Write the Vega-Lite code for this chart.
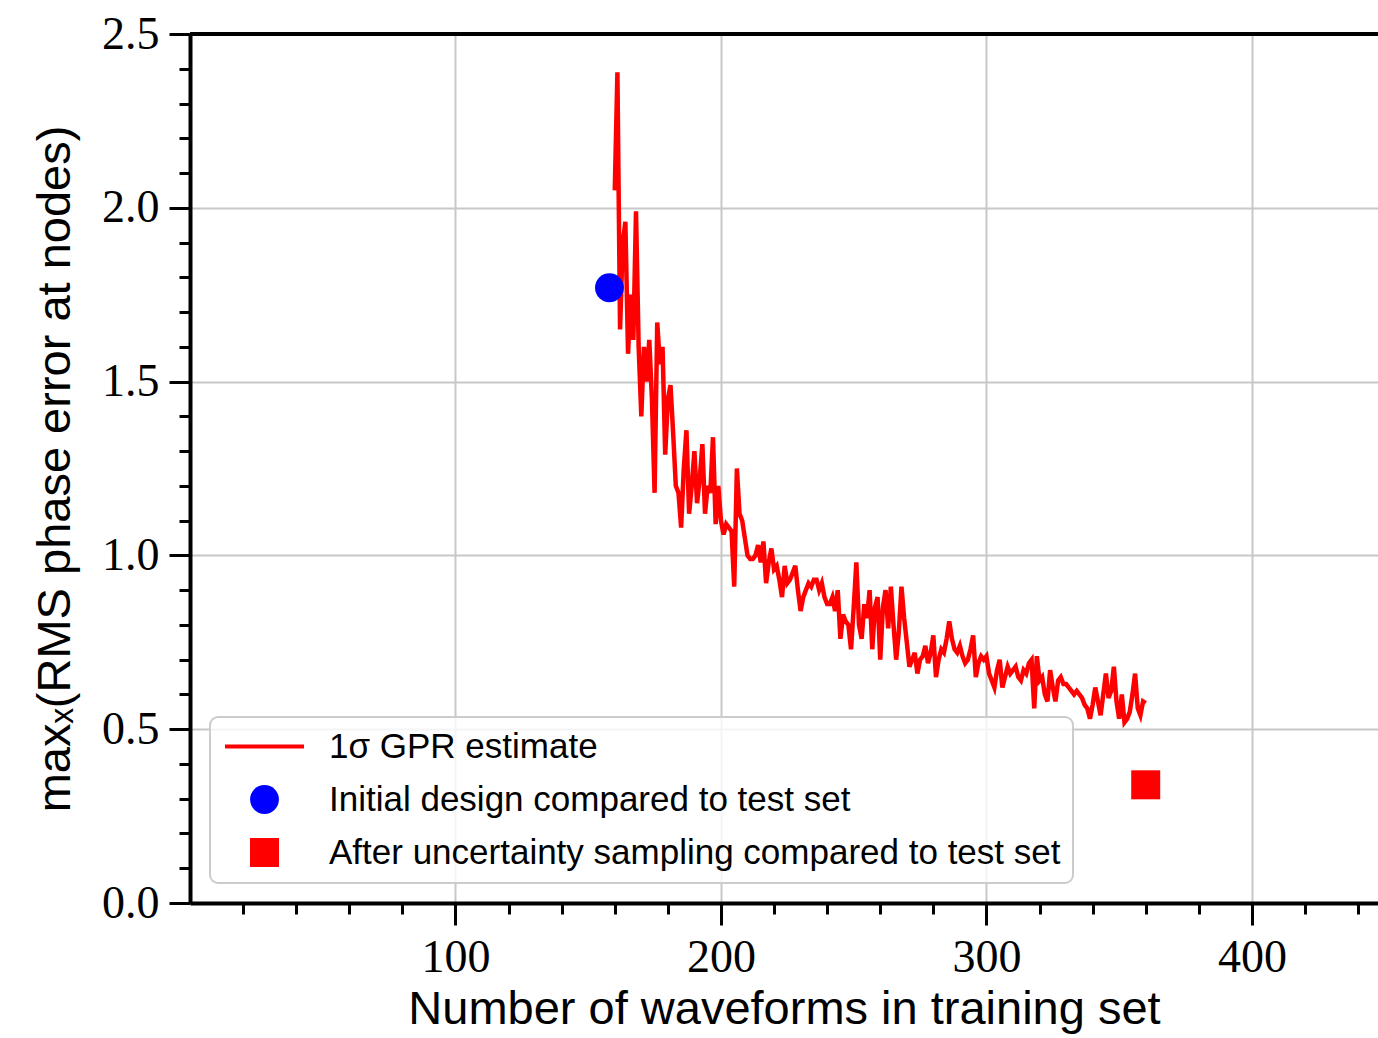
{
"$schema": "https://vega.github.io/schema/vega-lite/v6.json",
"width": 1188, "height": 869,
"autosize": "none",
"padding": {"left": 190, "top": 34, "right": 0, "bottom": 135},
"background": "white",
"config": {
  "view": {"stroke": null},
  "legend": {"orient": "none", "legendX": 20, "legendY": 683, "fillColor": "rgba(255,255,255,0.8)", "strokeColor": "#cccccc", "strokeWidth": 2, "cornerRadius": 8, "padding": 12, "labelFont": "Liberation Sans", "labelFontSize": 35, "labelColor": "black", "labelOffset": 47, "symbolOffset": 25, "labelLimit": 0, "symbolOpacity": 1, "rowPadding": 17}
},
"datasets": {
  "gpr": [
{"n":160,"v":2.05},{"n":161,"v":2.39},{"n":162,"v":1.65},{"n":163,"v":1.90},{"n":164,"v":1.96},{"n":165,"v":1.58},{"n":166,"v":1.75},{"n":167,"v":1.62},{"n":168,"v":1.99},{"n":169,"v":1.60},
{"n":170,"v":1.40},{"n":171,"v":1.60},{"n":172,"v":1.50},{"n":173,"v":1.62},{"n":174,"v":1.45},{"n":175,"v":1.18},{"n":176,"v":1.67},{"n":177,"v":1.55},{"n":178,"v":1.60},{"n":179,"v":1.29},
{"n":180,"v":1.45},{"n":181,"v":1.49},{"n":182,"v":1.35},{"n":183,"v":1.20},{"n":184,"v":1.18},{"n":185,"v":1.08},{"n":186,"v":1.25},{"n":187,"v":1.36},{"n":188,"v":1.12},{"n":189,"v":1.20},
{"n":190,"v":1.30},{"n":191,"v":1.15},{"n":192,"v":1.22},{"n":193,"v":1.32},{"n":194,"v":1.12},{"n":195,"v":1.20},{"n":196,"v":1.18},{"n":197,"v":1.34},{"n":198,"v":1.09},{"n":199,"v":1.20},
{"n":200,"v":1.10},{"n":201,"v":1.06},{"n":202,"v":1.09},{"n":203,"v":1.08},{"n":204,"v":1.07},{"n":205,"v":0.91},{"n":206,"v":1.25},{"n":207,"v":1.12},{"n":208,"v":1.10},{"n":209,"v":1.05},
{"n":210,"v":1.00},{"n":211,"v":0.99},{"n":212,"v":0.99},{"n":213,"v":1.00},{"n":214,"v":1.03},{"n":215,"v":0.98},{"n":216,"v":1.04},{"n":217,"v":0.92},{"n":218,"v":0.98},{"n":219,"v":1.02},
{"n":220,"v":0.96},{"n":221,"v":0.97},{"n":222,"v":0.93},{"n":223,"v":0.88},{"n":224,"v":0.97},{"n":225,"v":0.92},{"n":226,"v":0.93},{"n":227,"v":0.95},{"n":228,"v":0.97},{"n":229,"v":0.90},
{"n":230,"v":0.84},{"n":231,"v":0.88},{"n":232,"v":0.90},{"n":233,"v":0.92},{"n":234,"v":0.91},{"n":235,"v":0.93},{"n":236,"v":0.93},{"n":237,"v":0.90},{"n":238,"v":0.92},{"n":239,"v":0.88},
{"n":240,"v":0.86},{"n":241,"v":0.86},{"n":242,"v":0.88},{"n":243,"v":0.84},{"n":244,"v":0.90},{"n":245,"v":0.76},{"n":246,"v":0.83},{"n":247,"v":0.81},{"n":248,"v":0.80},{"n":249,"v":0.73},
{"n":250,"v":0.85},{"n":251,"v":0.98},{"n":252,"v":0.80},{"n":253,"v":0.76},{"n":254,"v":0.86},{"n":255,"v":0.82},{"n":256,"v":0.90},{"n":257,"v":0.73},{"n":258,"v":0.85},{"n":259,"v":0.88},
{"n":260,"v":0.70},{"n":261,"v":0.85},{"n":262,"v":0.90},{"n":263,"v":0.79},{"n":264,"v":0.91},{"n":265,"v":0.80},{"n":266,"v":0.70},{"n":267,"v":0.78},{"n":268,"v":0.91},{"n":269,"v":0.82},
{"n":270,"v":0.75},{"n":271,"v":0.68},{"n":272,"v":0.70},{"n":273,"v":0.72},{"n":274,"v":0.66},{"n":275,"v":0.70},{"n":276,"v":0.71},{"n":277,"v":0.74},{"n":278,"v":0.69},{"n":279,"v":0.72},
{"n":280,"v":0.77},{"n":281,"v":0.65},{"n":282,"v":0.70},{"n":283,"v":0.73},{"n":284,"v":0.72},{"n":285,"v":0.76},{"n":286,"v":0.81},{"n":287,"v":0.76},{"n":288,"v":0.73},{"n":289,"v":0.72},
{"n":290,"v":0.74},{"n":291,"v":0.71},{"n":292,"v":0.69},{"n":293,"v":0.70},{"n":294,"v":0.73},{"n":295,"v":0.77},{"n":296,"v":0.65},{"n":297,"v":0.69},{"n":298,"v":0.71},{"n":299,"v":0.70},
{"n":300,"v":0.71},{"n":301,"v":0.66},{"n":302,"v":0.64},{"n":303,"v":0.62},{"n":304,"v":0.67},{"n":305,"v":0.70},{"n":306,"v":0.62},{"n":307,"v":0.65},{"n":308,"v":0.68},{"n":309,"v":0.66},
{"n":310,"v":0.67},{"n":311,"v":0.68},{"n":312,"v":0.65},{"n":313,"v":0.64},{"n":314,"v":0.67},{"n":315,"v":0.66},{"n":316,"v":0.69},{"n":317,"v":0.70},{"n":318,"v":0.56},{"n":319,"v":0.71},
{"n":320,"v":0.64},{"n":321,"v":0.65},{"n":322,"v":0.60},{"n":323,"v":0.58},{"n":324,"v":0.67},{"n":325,"v":0.62},{"n":326,"v":0.58},{"n":327,"v":0.64},{"n":328,"v":0.65},{"n":329,"v":0.63},
{"n":330,"v":0.63},{"n":331,"v":0.62},{"n":332,"v":0.61},{"n":333,"v":0.60},{"n":334,"v":0.61},{"n":335,"v":0.60},{"n":336,"v":0.59},{"n":337,"v":0.57},{"n":338,"v":0.56},{"n":339,"v":0.53},
{"n":340,"v":0.57},{"n":341,"v":0.62},{"n":342,"v":0.58},{"n":343,"v":0.54},{"n":344,"v":0.60},{"n":345,"v":0.66},{"n":346,"v":0.59},{"n":347,"v":0.61},{"n":348,"v":0.68},{"n":349,"v":0.58},
{"n":350,"v":0.53},{"n":351,"v":0.60},{"n":352,"v":0.52},{"n":353,"v":0.53},{"n":354,"v":0.55},{"n":355,"v":0.60},{"n":356,"v":0.66},{"n":357,"v":0.56},{"n":358,"v":0.54},{"n":359,"v":0.58},
{"n":360,"v":0.575}
  ],
  "pts": [
    {"n": 158, "v": 1.77, "s": "Initial design compared to test set"},
    {"n": 360, "v": 0.34, "s": "After uncertainty sampling compared to test set"}
  ],
  "spine": [{"v": 2.5}]
},
"encoding": {
  "y": {"field": "v", "type": "quantitative",
    "scale": {"domain": [0, 2.5], "nice": false, "zero": false},
    "axis": {
      "values": [0,0.1,0.2,0.3,0.4,0.5,0.6,0.7,0.8,0.9,1.0,1.1,1.2,1.3,1.4,1.5,1.6,1.7,1.8,1.9,2.0,2.1,2.2,2.3,2.4,2.5],
      "title": "maxₓ(RMS phase error at nodes)",
      "labelExpr": "indexof([0,0.5,1,1.5,2,2.5], datum.value) >= 0 ? format(datum.value, '.1f') : ''",
      "labelOverlap": false,
      "tickSize": {"condition": {"test": "indexof([0,0.5,1,1.5,2,2.5], datum.value) >= 0", "value": 21}, "value": 11},
      "gridOpacity": {"condition": {"test": "indexof([0,0.5,1,1.5,2,2.5], datum.value) >= 0", "value": 1}, "value": 0},
      "tickWidth": 3, "tickColor": "black",
      "domainColor": "black", "domainWidth": 4,
      "gridColor": "#c8c8c8", "gridWidth": 2,
      "labelFont": "Liberation Serif", "labelFontSize": 46, "labelColor": "black", "labelPadding": 10, "labelFlush": false,
      "titleFont": "Liberation Sans", "titleFontSize": 47, "titleColor": "black", "titleFontWeight": "normal", "titlePadding": 22
    }
  }
},
"layer": [
  {
    "data": {"name": "gpr"},
    "mark": {"type": "line", "strokeWidth": 4.5, "clip": true},
    "encoding": {
      "x": {"field": "n", "type": "quantitative",
        "scale": {"domain": [0, 447.5], "nice": false, "zero": false},
        "axis": {
          "values": [20,40,60,80,100,120,140,160,180,200,220,240,260,280,300,320,340,360,380,400,420,440],
          "title": "Number of waveforms in training set",
          "labelExpr": "indexof([100,200,300,400], datum.value) >= 0 ? datum.label : ''",
          "labelOverlap": false,
          "tickSize": {"condition": {"test": "indexof([100,200,300,400], datum.value) >= 0", "value": 22}, "value": 11},
          "gridOpacity": {"condition": {"test": "indexof([100,200,300,400], datum.value) >= 0", "value": 1}, "value": 0},
          "tickWidth": 3, "tickColor": "black",
          "domainColor": "black", "domainWidth": 4,
          "gridColor": "#c8c8c8", "gridWidth": 2,
          "labelFont": "Liberation Serif", "labelFontSize": 46, "labelColor": "black", "labelPadding": 10, "labelFlush": false,
          "titleFont": "Liberation Sans", "titleFontSize": 47, "titleColor": "black", "titleFontWeight": "normal", "titlePadding": 6
        }
      },
      "color": {"datum": "1σ GPR estimate", "type": "nominal",
        "scale": {"domain": ["1σ GPR estimate", "Initial design compared to test set", "After uncertainty sampling compared to test set"], "range": ["#ff0000", "#0000ff", "#ff0000"]},
        "legend": {"title": null,
          "encode": {"symbols": {"update": {
            "stroke": {"scale": "color", "field": "value"},
            "fill": {"scale": "color", "field": "value"},
            "strokeWidth": {"signal": "datum.value === '1σ GPR estimate' ? 4 : 0"},
            "opacity": {"value": 1}
          }}}
        }
      }
    }
  },
  {
    "data": {"name": "pts"},
    "mark": {"type": "point", "filled": true, "opacity": 1},
    "encoding": {
      "x": {"field": "n", "type": "quantitative"},
      "color": {"field": "s", "type": "nominal", "legend": {"title": null}},
      "shape": {"field": "s", "type": "nominal",
        "scale": {"domain": ["1σ GPR estimate", "Initial design compared to test set", "After uncertainty sampling compared to test set"], "range": ["stroke", "circle", "square"]},
        "legend": {"title": null}},
      "size": {"field": "s", "type": "nominal",
        "scale": {"type": "ordinal", "domain": ["1σ GPR estimate", "Initial design compared to test set", "After uncertainty sampling compared to test set"], "range": [6241, 830, 841]},
        "legend": {"title": null}}
    }
  },
  {
    "data": {"name": "spine"},
    "mark": {"type": "rule", "color": "black", "strokeWidth": 4},
    "encoding": {}
  }
]
}
